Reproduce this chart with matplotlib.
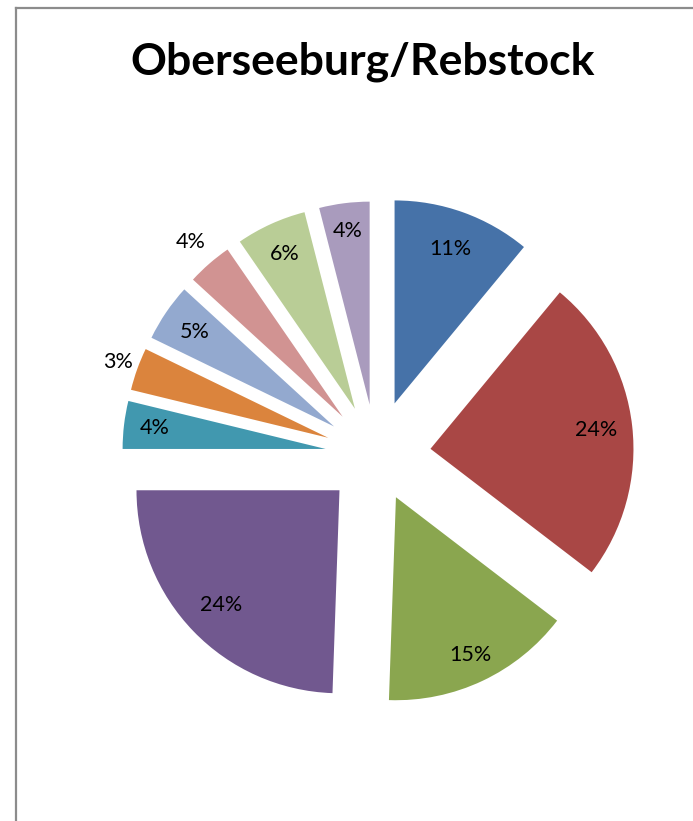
import numpy as np
import matplotlib
matplotlib.use("Agg")
import matplotlib.pyplot as plt
from matplotlib.lines import Line2D

# slice shares (percent), clockwise from 12 o'clock
values = [11.0, 24.4, 15.15, 24.45, 3.8, 3.4, 4.6, 3.6, 5.6, 4.0]
colors = ['#4672A8', '#A94745', '#8AA64F', '#71588F', '#4198AF',
          '#DB843D', '#93A9CF', '#D19392', '#B9CD96', '#A99BBD']
explode = [0.27, 0.27, 0.23, 0.25, 0.25, 0.25, 0.25, 0.25, 0.25, 0.25]
# label distance from each (exploded) slice tip, in radii
label_dist = [0.81, 0.82, 0.86, 0.81, 0.85, 1.10, 0.83, 1.14, 0.84, 0.86]
title = "Oberseeburg/Rebstock"

W, H = 693, 821
cx, cy, R = 376, 455, 203   # pie centre / radius in pixels

fig = plt.figure(figsize=(W / 100, H / 100), dpi=100)
ax = fig.add_axes([0, 0, 1, 1])

wedges, _ = ax.pie(values, colors=colors, explode=explode, startangle=90,
                   counterclock=False, radius=1.0,
                   wedgeprops=dict(linewidth=0))

for w, v, ld in zip(wedges, values, label_dist):
    mid = np.deg2rad((w.theta1 + w.theta2) / 2)
    x = w.center[0] + ld * np.cos(mid)
    y = w.center[1] + ld * np.sin(mid)
    ax.text(x, y, f"{v:.0f}%", ha='center', va='center',
            fontsize=15.5, family='Lato', color='black')

ax.set_xlim(-cx / R, (W - cx) / R)
ax.set_ylim(-(H - cy) / R, cy / R)
ax.axis('off')

fig.text(363 / W, 1 - 62 / H, title, ha='center', va='center',
         fontsize=32, fontweight='bold', family='Lato')

# frame lines (left and top only)
fig.add_artist(Line2D([16 / W, 16 / W], [0, 1 - 8 / H], transform=fig.transFigure,
                      color='#8c8c8c', linewidth=1.6))
fig.add_artist(Line2D([16 / W, 1], [1 - 8 / H, 1 - 8 / H], transform=fig.transFigure,
                      color='#8c8c8c', linewidth=1.6))

fig.savefig("out.png", dpi=100)
